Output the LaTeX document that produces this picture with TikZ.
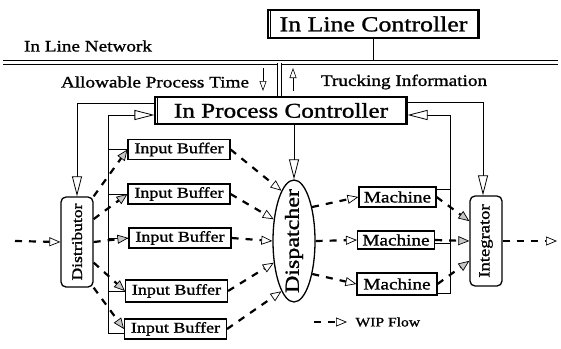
\documentclass[tikz,border=0pt]{standalone}
\usepackage{fontspec}
\setmainfont{Liberation Serif}[FakeStretch=1.2,FakeBold=1.2]
\usetikzlibrary{arrows.meta,shapes.geometric}
\newcommand\myfs[1]{\fontsize{#1}{#1}\selectfont}
\begin{document}
\begin{tikzpicture}[x=1pt,y=-1pt,
  dbox/.style={draw=black, line width=1.1pt, inner sep=0pt},
  inner/.style={line width=0.6pt},
  ibox/.style={draw, line width=1.1pt, inner sep=0pt, minimum width=102pt, minimum height=20pt, font=\myfs{15}},
  mbox/.style={draw, line width=1.1pt, inner sep=0pt, minimum width=77pt, minimum height=20pt, font=\myfs{16}},
  rbox/.style={draw, line width=1.3pt, rounded corners=5pt, inner sep=0pt, minimum width=32pt, minimum height=90pt},
  ctrl/.style={line width=0.9pt},
  carrow/.style={ctrl, -{Triangle[length=20pt,width=10pt,line width=0.8pt,fill=white]}},
  sarrow/.style={line width=0.7pt, -{Triangle[length=10pt,width=7pt,line width=0.6pt,fill=white]}},
  wip/.style={line width=2.2pt, dash pattern=on 7pt off 7pt, -{Triangle[length=11pt,width=9pt,line width=0.7pt,fill=white]}},
  wipg/.style={line width=2.2pt, dash pattern=on 7pt off 7pt, -{Triangle[length=11pt,width=9pt,line width=0.7pt,fill=gray!45]}}
]
\useasboundingbox (0,0) rectangle (561,348);

% nodes
\node[dbox, minimum width=211pt, minimum height=28pt, font=\myfs{21.5}] (ilc) at (373.5,24) {In Line Controller};
\draw[inner] ([xshift=2.6pt]ilc.north west) -- ([xshift=2.6pt]ilc.south west);
\draw[inner] ([xshift=-2.6pt]ilc.north east) -- ([xshift=-2.6pt]ilc.south east);
\node[dbox, minimum width=252pt, minimum height=27pt, font=\myfs{21}] (ipc) at (281,110.5) {In Process Controller};
\draw[inner] ([xshift=2.6pt]ipc.north west) -- ([xshift=2.6pt]ipc.south west);
\draw[inner] ([xshift=-2.6pt]ipc.north east) -- ([xshift=-2.6pt]ipc.south east);
\node[font=\myfs{16}] (iln) at (88,46) {In Line Network};
\node[font=\myfs{16}] (apt) at (155,82) {Allowable Process Time};
\node[font=\myfs{16}] (tri) at (404,82) {Trucking Information};

\node[ibox] (ib1) at (179,149.5) {Input Buffer};
\node[ibox] (ib2) at (179,194) {Input Buffer};
\node[ibox] (ib3) at (180,238) {Input Buffer};
\node[ibox, minimum height=22pt] (ib4) at (176.5,291) {Input Buffer};
\node[ibox] (ib5) at (175.5,329) {Input Buffer};

\node[rbox] (dist) at (77,242) {};
\node[rotate=90, font=\myfs{14.6}] at (dist) {Distributor};
\node[rbox] (integ) at (486,241) {};
\node[rotate=90, font=\myfs{15.5}] at (integ) {Integrator};

\node[draw, ellipse, line width=1.3pt, inner sep=0pt, minimum width=42pt, minimum height=122pt] (disp) at (294,241) {};
\node[rotate=90, font=\myfs{20}] at (disp) {Dispatcher};

\node[mbox] (m1) at (397.5,197) {Machine};
\node[mbox, minimum height=18pt] (m2) at (396,240) {Machine};
\node[mbox, minimum height=22pt, minimum width=80pt] (m3) at (397,284) {Machine};

\node[font=\myfs{13}, anchor=west] (leg) at (352,322) {WIP Flow};

% network
\coordinate (nl) at (3,62.5);
\coordinate (nr) at (558,62.5);
\draw[ctrl] (ilc.south) -- (ilc.south |- nl);
\draw[line width=0.8pt, double, double distance=3.5pt] (nl) -- (nr);
\coordinate (vt) at (279.5,62.8);
\draw[line width=0.8pt, double, double distance=3pt] (vt) -- (vt |- ipc.north);
\coordinate (aw1) at (263,68);
\coordinate (aw2) at (263,91);
\draw[sarrow] (aw1) -- (aw2);
\coordinate (ti1) at (293,91);
\coordinate (ti2) at (293,68);
\draw[sarrow] (ti1) -- (ti2);

% control lines
\coordinate (lt) at (77,103);
\draw[carrow] (lt -| ipc.west) -- (lt) -- (lt |- dist.north);
\coordinate (rt) at (483,102);
\draw[carrow] (rt -| ipc.east) -- (rt) -- (rt |- integ.north);
\draw[carrow] (disp.north |- ipc.south) -- (disp.north);

\coordinate (lbt) at (108,115);
\coordinate (lbb) at (108,333);
\draw[carrow] (ib5.west |- lbb) -- (lbb) -- (lbt) -- (lbt -| ipc.west);
\foreach \n in {ib1,ib2,ib3,ib4} \draw[ctrl] (\n.west) -- (\n.west -| lbt);

\coordinate (rbt) at (450,115);
\coordinate (rbb) at (450,293);
\draw[carrow] (m3.east |- rbb) -- (rbb) -- (rbt) -- (rbt -| ipc.east);
\coordinate (rb1) at (450,189);
\draw[ctrl] (rb1) -- (rb1 -| m1.east);
\coordinate (rb2) at (450,243);
\draw[ctrl] (rb2) -- (rb2 -| m2.east);

% WIP flow
\coordinate (win) at (15,241);
\draw[wip] (win) -- (dist.west);
\coordinate (wout) at (557,241);
\draw[wip] (integ.east) -- (wout);

\draw[wipg] (dist.north east) -- (ib1.west);
\draw[wipg] (dist.54) -- (ib2.west);
\draw[wipg] (dist.east) -- (ib3.west);
\draw[wipg] (dist.309) -- (ib4.west);
\draw[wipg] (dist.south east) -- (ib5.west);

\draw[wip] (ib1.east) -- (disp.104);
\draw[wip] (ib2.east) -- (disp.133);
\draw[wip] (ib3.east) -- (disp.west);
\draw[wip] (ib4.east) -- (disp.227);
\draw[wip] (ib5.east) -- (disp.256);

\draw[wip] (disp.62) -- (m1.west);
\draw[wip] (disp.east) -- (m2.west);
\draw[wip] (disp.299) -- (m3.west);

\draw[wipg] (m1.east) -- (integ.130);
\draw[wipg] (m2.east) -- (integ.west);
\draw[wipg] (m3.east) -- (integ.230);

\coordinate (lg) at (314,322);
\draw[wip] (lg) -- ([xshift=-5pt]leg.west);
\end{tikzpicture}
\end{document}
